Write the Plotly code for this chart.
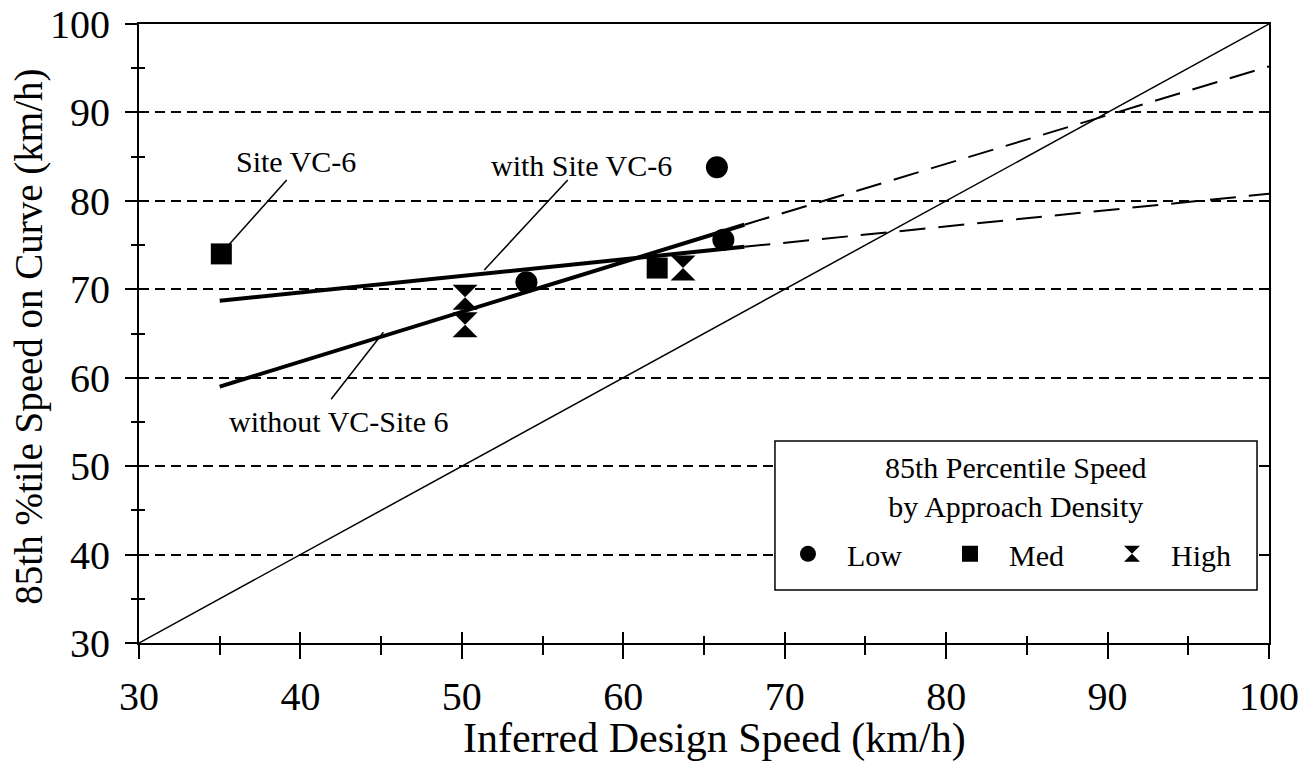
import plotly.graph_objects as go

# observed 85th percentile speeds, by approach density
low_x = [54.0, 66.2, 65.8]
low_y = [70.8, 75.6, 83.8]
med_x = [35.1, 62.1]
med_y = [74.0, 72.4]
high_x = [63.7, 50.2, 50.2]
high_y = [72.4, 69.1, 66.0]

# regression lines (solid over data range, dashed extension)
fit_x = [35, 67.5]
ext_x = [67.5, 100]
without_fit_y = [59.0, 77.3]
without_ext_y = [77.3, 95.2]
with_fit_y = [68.7, 74.8]
with_ext_y = [74.8, 80.8]

# line of equality
eq_x = [30, 100]
eq_y = [30, 100]

FONT = "Liberation Serif"

fig = go.Figure()

fig.add_trace(go.Scatter(x=eq_x, y=eq_y, mode="lines", showlegend=False,
                         line=dict(color="black", width=1.5)))
for ext_y in [without_ext_y, with_ext_y]:
    fig.add_trace(go.Scatter(x=ext_x, y=ext_y, mode="lines", showlegend=False,
                             line=dict(color="black", width=2, dash="26px,13px")))
for fit_y in [without_fit_y, with_fit_y]:
    fig.add_trace(go.Scatter(x=fit_x, y=fit_y, mode="lines", showlegend=False,
                             line=dict(color="black", width=4)))

fig.add_trace(go.Scatter(x=low_x, y=low_y, mode="markers", name="Low",
                         marker=dict(symbol="circle", size=22, color="black")))
fig.add_trace(go.Scatter(x=med_x, y=med_y, mode="markers", name="Med",
                         marker=dict(symbol="square", size=21, color="black")))
fig.add_trace(go.Scatter(x=high_x, y=high_y, mode="markers", name="High",
                         marker=dict(symbol="hourglass", size=25, color="black")))

# dummy trace so the overlay axes (inner half of the crossing ticks) get drawn
fig.add_trace(go.Scatter(x=[], y=[], xaxis="x2", yaxis="y2", showlegend=False))

# leader lines
leaders = [
    (39.15, 82.36, 35.5, 74.9),
    (56.56, 82.36, 51.39, 72.18),
    (41.9, 57.56, 45.14, 65.14),
]
for x0, y0, x1, y1 in leaders:
    fig.add_shape(type="line", xref="x", yref="y", x0=x0, y0=y0, x1=x1, y1=y1,
                  line=dict(color="black", width=1.5))

labels = [
    ("Site VC-6", 39.7, 84.4),
    ("with Site VC-6", 57.4, 84.05),
    ("without VC-Site 6", 42.33, 55.0),
]
for txt, x, y in labels:
    fig.add_annotation(x=x, y=y, text=txt, showarrow=False,
                       font=dict(family=FONT, size=30, color="black"))

# legend frame (white box hiding the gridlines behind it) and its title
fig.add_shape(type="rect", xref="paper", yref="paper", x0=0.5628, x1=0.9894,
              y0=0.0856, y1=0.3263, fillcolor="white", layer="above",
              line=dict(color="black", width=1.5))
fig.add_annotation(xref="paper", yref="paper", x=0.776, y=0.252,
                   xanchor="center", yanchor="middle",
                   text="85th Percentile Speed<br>by Approach Density", showarrow=False,
                   font=dict(family=FONT, size=30, color="black"))

# axis titles
fig.add_annotation(xref="paper", yref="paper", x=0.509, y=-0.1535,
                   xanchor="center", yanchor="middle",
                   text="Inferred Design Speed (km/h)", showarrow=False,
                   font=dict(family=FONT, size=42, color="black"))
fig.add_annotation(xref="paper", yref="paper", x=-0.0973, y=0.495, textangle=-90,
                   xanchor="center", yanchor="middle",
                   text="85th %tile Speed on Curve (km/h)", showarrow=False,
                   font=dict(family=FONT, size=39, color="black"))

# page body has an 8px margin, so the figure is drawn slightly smaller
fig.update_layout(
    width=1295, height=753,
    margin=dict(l=131, r=34, t=16, b=118),
    plot_bgcolor="white", paper_bgcolor="white",
    font=dict(family=FONT, size=40, color="black"),
    xaxis=dict(
        range=[30, 100], dtick=10, showgrid=False, zeroline=False, automargin=False,
        showline=True, linecolor="black", linewidth=2, mirror=True,
        ticks="outside", ticklen=14, tickwidth=1.5, tickcolor="black",
        minor=dict(ticks="outside", ticklen=10, dtick=5, tickwidth=1.5, tickcolor="black"),
        ticklabelstandoff=3, ticklabeloverflow="allow",
    ),
    xaxis2=dict(
        range=[30, 100], overlaying="x", anchor="y", side="bottom", automargin=False,
        showgrid=False, zeroline=False, showticklabels=False,
        tickvals=[40, 50, 60, 70, 80, 90], ticks="inside", ticklen=11,
        tickwidth=1.5, tickcolor="black",
        minor=dict(ticks="inside", ticklen=7, tickvals=[35, 45, 55, 65, 75, 85, 95],
                   tickwidth=1.5, tickcolor="black"),
    ),
    yaxis=dict(
        range=[30, 100], dtick=10, zeroline=False, automargin=False,
        showgrid=True, gridcolor="black", gridwidth=1.5, griddash="10px,6px",
        showline=True, linecolor="black", linewidth=2, mirror=True,
        ticks="outside", ticklen=12, tickwidth=1.5, tickcolor="black",
        minor=dict(ticks="outside", ticklen=6, dtick=5, tickwidth=1.5, tickcolor="black"),
        ticklabelstandoff=7, ticklabeloverflow="allow",
    ),
    yaxis2=dict(
        range=[30, 100], overlaying="y", anchor="x", side="left", automargin=False,
        showgrid=False, zeroline=False, showticklabels=False,
        tickvals=[35, 45, 55, 65, 75, 85, 95], ticks="inside", ticklen=6,
        tickwidth=1.5, tickcolor="black",
    ),
    legend=dict(
        orientation="h", x=0.5575, y=0.186, xanchor="left", yanchor="top",
        bgcolor="rgba(0,0,0,0)", borderwidth=0,
        font=dict(family=FONT, size=30, color="black"),
        entrywidth=79, itemwidth=68, itemsizing="trace",
    ),
)

fig.write_html("out.html")
